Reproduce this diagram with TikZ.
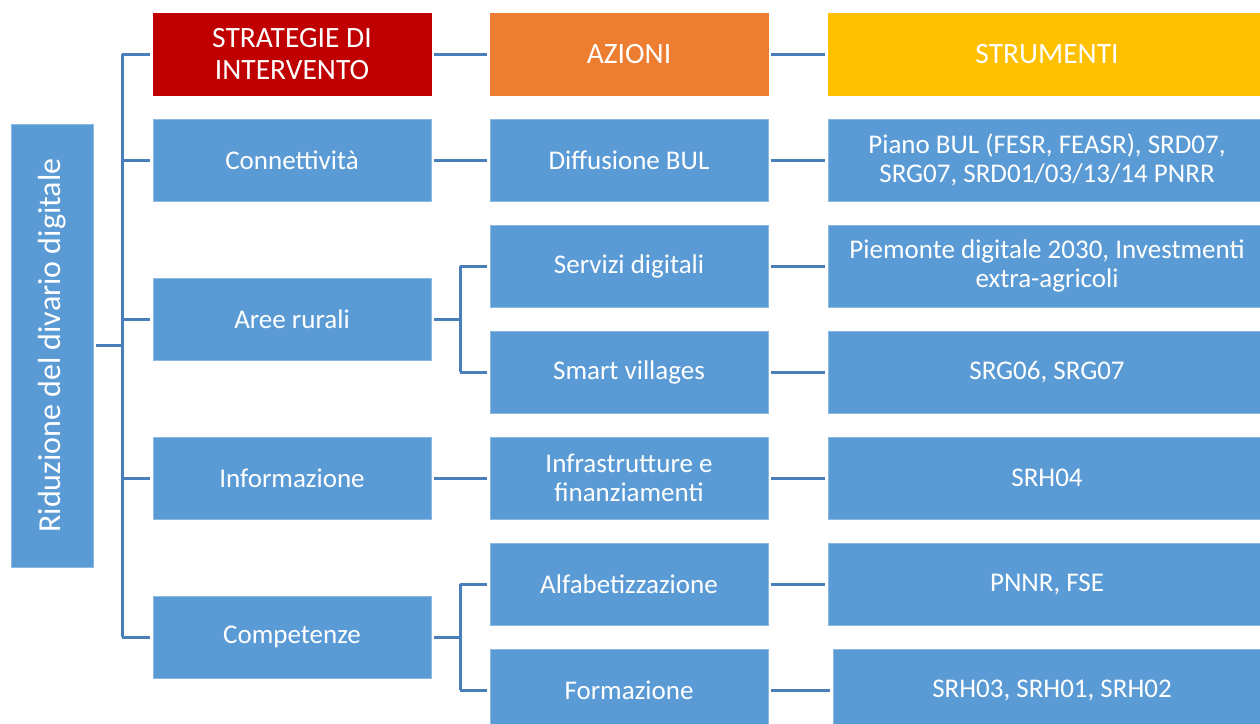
\documentclass[tikz,border=0pt]{standalone}
\usepackage{fontspec}
\setmainfont{Carlito}
\definecolor{boxblue}{HTML}{5B9BD5}
\definecolor{linkblue}{HTML}{4A7EBB}
\definecolor{hred}{HTML}{C00000}
\definecolor{horange}{HTML}{ED7D31}
\definecolor{hyellow}{HTML}{FFC000}
\tikzset{
  box/.style={fill=boxblue, draw=boxblue!70!white, line width=0.8pt, text=white, align=center, inner sep=0pt,
              font=\fontsize{27}{29}\selectfont, minimum height=82pt},
  hdr/.style={font=\fontsize{29.5}{32}\selectfont},
  c1/.style={box, minimum width=278pt},
  c2/.style={box, minimum width=278pt},
  c3/.style={box, minimum width=438pt},
  conn/.style={draw=linkblue, line width=3pt}
}
\begin{document}
\begin{tikzpicture}[x=1pt, y=-1pt]
\useasboundingbox (0,0) rectangle (1260,723);
\clip (0,0) rectangle (1260,723);
\fill[white] (0,0) rectangle (1260,723);

% root
\node[box, minimum width=82pt, minimum height=443pt] (root) at (52,345.5) {};
\node[text=white, rotate=90, font=\fontsize{32}{36}\selectfont] (roottxt) at (root.center) {Riduzione del divario digitale};

% column 1
\node[c1, hdr, fill=hred, draw=hred] (h1) at (292,54) {STRATEGIE DI\\INTERVENTO};
\node[c1] (conn) at (292,160) {Connettività};
\node[c1] (aree) at (292,319) {Aree rurali};
\node[c1] (info) at (292,478) {Informazione};
\node[c1] (comp) at (292,637) {Competenze};

% column 2
\node[c2, hdr, fill=horange, draw=horange] (h2) at (629,54) {AZIONI};
\node[c2] (bul) at (629,160) {Diffusione BUL};
\node[c2] (serv) at (629,266) {Servizi digitali};
\node[c2] (smart) at (629,372) {Smart villages};
\node[c2] (infr) at (629,478) {Infrastrutture e\\finanziamenti};
\node[c2] (alfa) at (629,584) {Alfabetizzazione};
\node[c2] (form) at (629,690) {Formazione};

% column 3
\node[c3, hdr, fill=hyellow, draw=hyellow] (h3) at (1047,54) {STRUMENTI};
\node[c3] (s1) at (1047,160) {Piano BUL (FESR, FEASR), SRD07,\\SRG07, SRD01/03/13/14 PNRR};
\node[c3] (s2) at (1047,266) {Piemonte digitale 2030, Investmenti\\extra-agricoli};
\node[c3] (s3) at (1047,372) {SRG06, SRG07};
\node[c3] (s4) at (1047,478) {SRH04};
\node[c3] (s5) at (1047,584) {PNNR, FSE};
\node[box, minimum width=438pt] (s6) at (1052,690) {SRH03, SRH01, SRH02};

% trunk
\coordinate (tk) at (122,0);
\coordinate (bk) at (460,0);
\draw[conn, shorten <=3pt] (root.east) -- (root.east -| tk);
\draw[conn, shorten >=3pt] (h1.west -| tk) -- (h1.west);
\draw[conn] (h1.west -| tk) -- (comp.west -| tk);
\foreach \n in {conn,aree,info,comp}
  \draw[conn, shorten >=3pt] (\n.west -| tk) -- (\n.west);

% col1 -> col2
\draw[conn, shorten <=3pt, shorten >=3pt] (h1.east) -- (h2.west);
\draw[conn, shorten <=3pt, shorten >=3pt] (conn.east) -- (bul.west);
\draw[conn, shorten <=3pt, shorten >=3pt] (info.east) -- (infr.west);
\draw[conn, shorten <=3pt] (aree.east) -- (aree.east -| bk);
\draw[conn] (serv.west -| bk) -- (smart.west -| bk);
\draw[conn, shorten >=3pt] (serv.west -| bk) -- (serv.west);
\draw[conn, shorten >=3pt] (smart.west -| bk) -- (smart.west);
\draw[conn, shorten <=3pt] (comp.east) -- (comp.east -| bk);
\draw[conn] (alfa.west -| bk) -- (form.west -| bk);
\draw[conn, shorten >=3pt] (alfa.west -| bk) -- (alfa.west);
\draw[conn, shorten >=3pt] (form.west -| bk) -- (form.west);

% col2 -> col3
\draw[conn, shorten <=3pt, shorten >=3pt] (h2.east) -- (h3.west);
\draw[conn, shorten <=3pt, shorten >=3pt] (bul.east) -- (s1.west);
\draw[conn, shorten <=3pt, shorten >=3pt] (serv.east) -- (s2.west);
\draw[conn, shorten <=3pt, shorten >=3pt] (smart.east) -- (s3.west);
\draw[conn, shorten <=3pt, shorten >=3pt] (infr.east) -- (s4.west);
\draw[conn, shorten <=3pt, shorten >=3pt] (alfa.east) -- (s5.west);
\draw[conn, shorten <=3pt, shorten >=3pt] (form.east) -- (s6.west);
\end{tikzpicture}
\end{document}
